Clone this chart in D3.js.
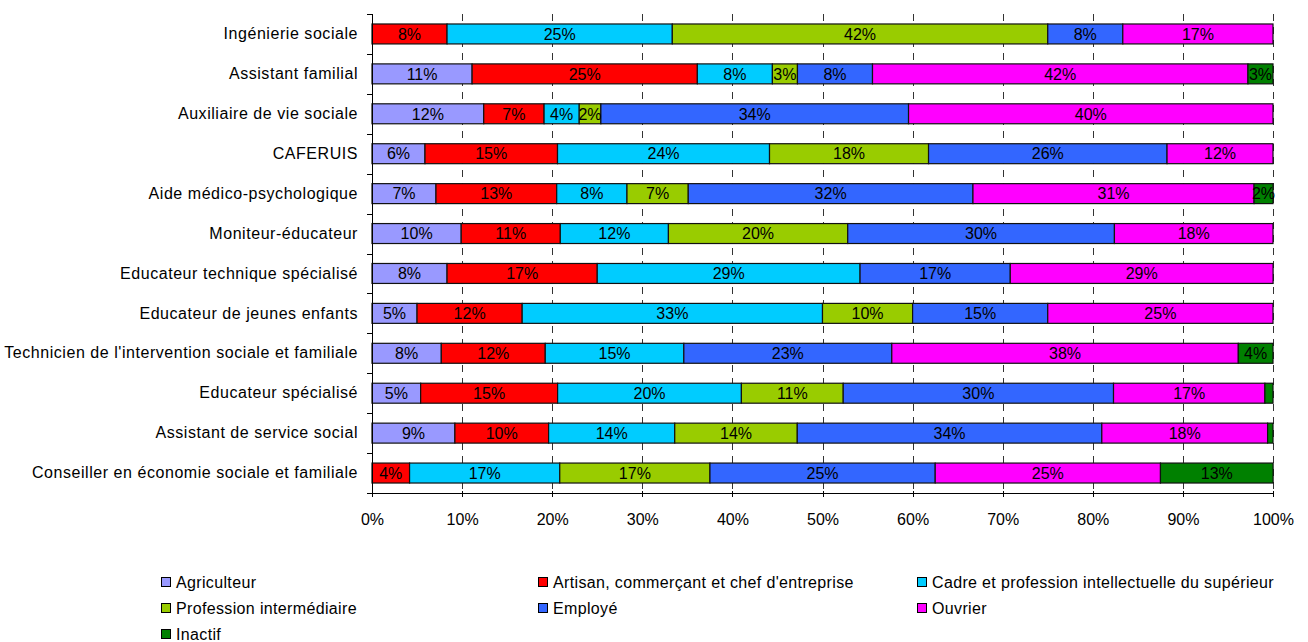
<!DOCTYPE html>
<html>
<head>
<meta charset="utf-8">
<script src="https://cdn.jsdelivr.net/npm/d3@7"></script>
<style>
  html, body { margin: 0; padding: 0; background: #fff; }
  svg { display: block; font-family: "Liberation Sans", Arial, sans-serif; }
</style>
</head>
<body>
<svg id="chart" width="1308" height="642"></svg>
<script>
// ---- Data ----
const categories = [
  "Ingénierie sociale",
  "Assistant familial",
  "Auxiliaire de vie sociale",
  "CAFERUIS",
  "Aide médico-psychologique",
  "Moniteur-éducateur",
  "Educateur technique spécialisé",
  "Educateur de jeunes enfants",
  "Technicien de l'intervention sociale et familiale",
  "Educateur spécialisé",
  "Assistant de service social",
  "Conseiller en économie sociale et familiale"
];
const seriesNames = [
  "Agriculteur",
  "Artisan, commerçant et chef d'entreprise",
  "Cadre et profession intellectuelle du supérieur",
  "Profession intermédiaire",
  "Employé",
  "Ouvrier",
  "Inactif"
];
const seriesColors = ["#9999FF", "#FF0000", "#00CCFF", "#99CC00", "#3366FF", "#FF00FF", "#008000"];

const agriculteur  = [0,     11.11, 12.4,  5.88,  7.1,  9.9,  8.33,  5.0,   7.69,  5.4,  9.2,  0];
const artisan      = [8.33,  25.0,  6.7,   14.71, 13.4, 11.0, 16.67, 11.67, 11.54, 15.2, 10.4, 4.17];
const cadre        = [25.0,  8.33,  3.9,   23.53, 7.8,  12.0, 29.17, 33.33, 15.38, 20.4, 14.0, 16.67];
const intermediaire= [41.67, 2.78,  2.4,   17.65, 6.8,  19.9, 0,     10.0,  0,     11.3, 13.6, 16.67];
const employe      = [8.33,  8.33,  34.15, 26.47, 31.6, 29.6, 16.67, 15.0,  23.08, 30.0, 33.8, 25.0];
const ouvrier      = [16.67, 41.67, 40.45, 11.76, 31.2, 17.6, 29.17, 25.0,  38.46, 16.8, 18.4, 25.0];
const inactif      = [0,     2.78,  0,     0,     2.1,  0,    0,     0,     3.85,  0.9,  0.6,  12.5];

const xTicks = [0, 10, 20, 30, 40, 50, 60, 70, 80, 90, 100];

// ---- Build table ----
const seriesValues = [agriculteur, artisan, cadre, intermediaire, employe, ouvrier, inactif];
const table = categories.map((c, i) => {
  const row = { category: c };
  seriesNames.forEach((s, j) => { row[s] = seriesValues[j][i]; });
  return row;
});
const stacked = d3.stack().keys(seriesNames)(table);

// ---- Layout ----
const svg = d3.select("#chart");
const plotL = 372, plotR = 1273, plotT = 14, plotB = 493;

const x = d3.scaleLinear().domain([0, 100]).range([plotL, plotR]);
const y = d3.scaleBand().domain(categories).range([plotT, plotB]).paddingInner(0.5).paddingOuter(0.25);
const color = d3.scaleOrdinal().domain(seriesNames).range(seriesColors);

// gridlines
svg.append("g")
  .selectAll("line")
  .data(xTicks.filter(d => d > 0))
  .join("line")
  .attr("x1", d => Math.round(x(d)) + 0.5)
  .attr("x2", d => Math.round(x(d)) + 0.5)
  .attr("y1", plotT)
  .attr("y2", plotB)
  .attr("stroke", "#333")
  .attr("stroke-width", 1)
  .attr("stroke-dasharray", "7,6");

// bars
const layer = svg.append("g")
  .selectAll("g")
  .data(stacked)
  .join("g")
  .attr("fill", d => color(d.key));

layer.selectAll("rect")
  .data(d => d.filter(p => p[1] - p[0] > 0))
  .join("rect")
  .attr("x", d => x(d[0]))
  .attr("y", d => y(d.data.category))
  .attr("width", d => x(d[1]) - x(d[0]))
  .attr("height", y.bandwidth())
  .attr("stroke", "#111")
  .attr("stroke-width", 1.2);

// segment labels
const labels = svg.append("g")
  .attr("font-size", 16)
  .attr("fill", "#000")
  .attr("text-anchor", "middle");
stacked.forEach(s => {
  labels.selectAll(null)
    .data(s.filter(p => p[1] - p[0] >= 1.5))
    .join("text")
    .attr("x", d => (x(d[0]) + x(d[1])) / 2)
    .attr("y", d => y(d.data.category) + y.bandwidth() / 2)
    .attr("dy", "0.36em")
    .text(d => Math.round(d[1] - d[0]) + "%");
});

// y axis
const yAxis = d3.axisLeft(y).tickSize(0).tickPadding(14);
const yg = svg.append("g").attr("transform", `translate(${plotL},0)`).call(yAxis);
yg.select(".domain").attr("stroke", "#000").attr("d", `M0.5,${plotT}V${plotB}`);
yg.selectAll("text").attr("font-size", 16).attr("font-family", "Liberation Sans, Arial, sans-serif")
  .attr("fill", "#000").attr("letter-spacing", "0.55px");
// category boundary ticks
svg.append("g")
  .selectAll("line")
  .data(d3.range(categories.length + 1))
  .join("line")
  .attr("x1", plotL - 5)
  .attr("x2", plotL)
  .attr("y1", i => Math.round(plotT + i * y.step()) + 0.5)
  .attr("y2", i => Math.round(plotT + i * y.step()) + 0.5)
  .attr("stroke", "#000");

// x axis
const xAxis = d3.axisBottom(x).tickValues(xTicks).tickFormat(d => d + "%").tickSize(0).tickPadding(20);
const xg = svg.append("g").attr("transform", `translate(0,${plotB + 0.5})`).call(xAxis);
xg.select(".domain").attr("stroke", "#000").attr("d", `M${plotL},0H${plotR}`);
xg.selectAll("text").attr("font-size", 16).attr("font-family", "Liberation Sans, Arial, sans-serif").attr("fill", "#000");
svg.append("g")
  .selectAll("line")
  .data(xTicks)
  .join("line")
  .attr("x1", d => Math.round(x(d)) + 0.5)
  .attr("x2", d => Math.round(x(d)) + 0.5)
  .attr("y1", plotB - 2)
  .attr("y2", plotB + 4)
  .attr("stroke", "#000");

// legend
const legendCols = [161, 538, 917];
const legendRows = [582, 608, 634];
const legend = svg.append("g");
seriesNames.forEach((name, i) => {
  const cx = legendCols[i % 3];
  const cy = legendRows[Math.floor(i / 3)];
  legend.append("rect")
    .attr("x", cx + 0.5)
    .attr("y", cy - 4.5)
    .attr("width", 9)
    .attr("height", 9)
    .attr("fill", color(name))
    .attr("stroke", "#000")
    .attr("stroke-width", 1);
  legend.append("text")
    .attr("x", cx + 15)
    .attr("y", cy)
    .attr("dy", "0.36em")
    .attr("font-size", 16)
    .attr("letter-spacing", "0.35px")
    .attr("fill", "#000")
    .text(name);
});
</script>
</body>
</html>
